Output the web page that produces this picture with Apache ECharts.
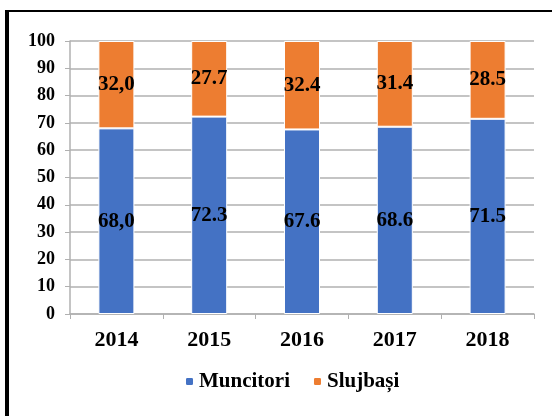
<!DOCTYPE html>
<html>
<head>
<meta charset="utf-8">
<title>Muncitori / Slujbași</title>
<script src="https://cdn.jsdelivr.net/npm/echarts@6/dist/echarts.min.js"></script>
<style>
  html, body { margin: 0; padding: 0; background: #fff; }
  #chart { width: 552px; height: 416px; }
</style>
</head>
<body>
<div id="chart"></div>
<script>
// date
var years = ['2014', '2015', '2016', '2017', '2018']
var muncitori = [68.0, 72.3, 67.6, 68.6, 71.5]
var slujbasi = [32.0, 27.7, 32.4, 31.4, 28.5]
// etichetele asa cum apar (2014 cu virgula)
var muncitoriLabels = ['68,0', '72.3', '67.6', '68.6', '71.5']
var slujbasiLabels = ['32,0', '27.7', '32.4', '31.4', '28.5']
var yTicks = [0, 10, 20, 30, 40, 50, 60, 70, 80, 90, 100]

var font = '"Liberation Serif", "Times New Roman", serif'
var chart = echarts.init(document.getElementById('chart'))

chart.setOption({
  animation: false,
  color: ['#4472C4', '#ED7D31'],
  textStyle: { fontFamily: font },
  grid: {
    left: 70,
    right: 18,
    top: 41,
    bottom: 102
  },
  // rama in jurul graficului
  graphic: [
    {
      type: 'line',
      shape: { x1: 5, y1: 11, x2: 552, y2: 11 },
      style: { stroke: '#000', lineWidth: 2 }
    },
    {
      type: 'line',
      shape: { x1: 7, y1: 10, x2: 7, y2: 416 },
      style: { stroke: '#000', lineWidth: 4 }
    }
  ],
  legend: {
    bottom: 19,
    left: 179,
    itemWidth: 9,
    itemHeight: 9,
    itemGap: 22,
    textStyle: {
      fontFamily: font,
      fontSize: 21,
      fontWeight: 'bold',
      color: '#000'
    },
    data: ['Muncitori', 'Slujbași']
  },
  xAxis: {
    type: 'category',
    data: years,
    axisLine: { lineStyle: { color: '#b0b0b0', width: 1.5 } },
    axisTick: { show: true, length: 5, lineStyle: { color: '#b0b0b0' } },
    axisLabel: {
      margin: 15,
      fontFamily: font,
      fontSize: 22,
      fontWeight: 'bold',
      color: '#000'
    }
  },
  yAxis: {
    type: 'value',
    min: yTicks[0],
    max: yTicks[yTicks.length - 1],
    interval: 10,
    axisLine: { show: true, lineStyle: { color: '#b0b0b0', width: 1.5 } },
    axisTick: { show: true, length: 5, lineStyle: { color: '#b0b0b0' } },
    splitLine: { lineStyle: { color: '#b0b0b0', width: 1.5 } },
    axisLabel: {
      margin: 15,
      fontFamily: font,
      fontSize: 18,
      fontWeight: 'bold',
      color: '#000'
    }
  },
  series: [
    {
      name: 'Muncitori',
      type: 'bar',
      stack: 'total',
      barWidth: 36,
      itemStyle: { borderColor: '#fff', borderWidth: 1 },
      label: {
        show: true,
        position: 'inside',
        fontFamily: font,
        fontSize: 21,
        fontWeight: 'bold',
        color: '#000',
        formatter: function (p) { return muncitoriLabels[p.dataIndex] }
      },
      data: muncitori
    },
    {
      name: 'Slujbași',
      type: 'bar',
      stack: 'total',
      barWidth: 36,
      itemStyle: { borderColor: '#fff', borderWidth: 1 },
      label: {
        show: true,
        position: 'inside',
        fontFamily: font,
        fontSize: 21,
        fontWeight: 'bold',
        color: '#000',
        formatter: function (p) { return slujbasiLabels[p.dataIndex] }
      },
      data: slujbasi
    }
  ]
})
</script>
</body>
</html>
